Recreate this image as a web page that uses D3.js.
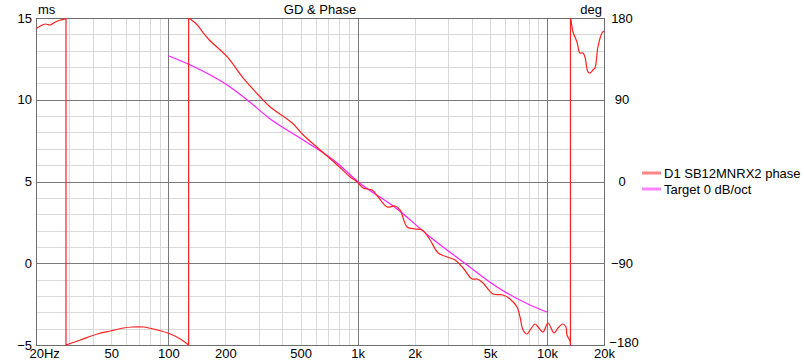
<!DOCTYPE html>
<html><head><meta charset="utf-8">
<script src="https://cdn.jsdelivr.net/npm/d3@7"></script>
<style>
body{margin:0;background:#fff;}
svg{display:block;font-family:"Liberation Sans",Arial,sans-serif;}
</style></head>
<body><svg id="c" width="804" height="360"></svg>
<script>
// ---- data ----
const title = "GD & Phase";
const leftUnit = "ms", rightUnit = "deg";
const msTicks = [-5, 0, 5, 10, 15];
const degTicks = [-180, -90, 0, 90, 180];
const freqTicks = [20, 50, 100, 200, 500, 1000, 2000, 5000, 10000, 20000];
const freqLabels = ["20Hz", "50", "100", "200", "500", "1k", "2k", "5k", "10k", "20k"];
const seriesNames = ["D1 SB12MNRX2 phase", "Target 0 dB/oct"];
const seriesColors = ["#ff1f1f", "#ff1fff"];

// measured phase (Hz, deg) – wraps shown as vertical jumps
const phaseFreq = [20, 21.1, 22.4, 23.8, 25.3, 26.9, 28.4, 28.8, 28.8, 34.3, 42.2, 49.4, 57.9, 64.6, 73.8, 87.5, 102.5, 115.7, 128, 128,
  130.6, 142.3, 153, 164.6, 204.8, 248.8, 305.9, 345.3, 451.1, 515.9, 634.1, 779.7, 913.2, 994,
  1069, 1192, 1283, 1431, 1577, 1676, 1824, 2011, 2190, 2413, 2660, 2967, 3270, 3604, 4020, 4272, 4596,
  5189, 5860, 6378, 6946, 7204, 7471, 7844, 8136, 8645, 8965, 9525, 10122, 10889, 11429, 12145, 12597,
  12750, 13224, 13300, 13300, 13384, 13713, 14396, 14930, 15488, 15870, 16460, 16866, 17487, 17920, 18580, 19505, 20000];
const phaseDeg = [168.2, 171.2, 173.4, 172.3, 175.6, 177.8, 178.9, 180, -180, -174.5, -167.9, -164.6, -161.3, -160.2, -160.2, -163.5, -167.9, -173.4, -180, 180,
  178.9, 172.3, 163.5, 155.8, 137.1, 113.9, 93.0, 82.0, 64.4, 51.2, 34.7, 18.2, 5.0, -0.5,
  -7.2, -9.4, -17.1, -28.1, -27, -31.4, -50.1, -52.3, -53.4, -64.4, -78.7, -83.1, -86.4, -95.2, -107.3, -107.3, -111.7,
  -123.8, -124.9, -129.3, -138.2, -149.2, -163.5, -167.9, -163.5, -156.9, -160.2, -165.7, -155.8, -166.8, -161.3, -156.9, -160.2,
  -169, -175.6, -180, 180, 177.8, 164.6, 153.6, 141.5, 141.5, 137.1, 120.6, 119.5, 122.8, 125, 148.1, 163.5, 165.7];

// target phase (Hz, deg)
const targetFreq = [100, 130.6, 204.8, 261.2, 345.3, 515.9, 779.7, 1000, 1616, 2413, 3604, 5446, 8136, 10000];
const targetDeg = [138.5, 128.3, 106.2, 89.7, 68.8, 45.7, 20.4, 0, -30.3, -61.1, -88.6, -116.1, -136, -143.7];

// ---- chart ----
const svg = d3.select("#c");
const L = 36, R = 604, T = 18, B = 345;
const x = d3.scaleLog().domain([20, 20000]).range([L, R]);
const yMs = d3.scaleLinear().domain([-5, 15]).range([B, T]);
const yDeg = d3.scaleLinear().domain([-180, 180]).range([B, T]);
const crisp = v => Math.round(v) + 0.5;
const FONT = "Liberation Sans, Arial, sans-serif";

const g = svg.append("g");
const majors = [100, 1000, 10000];
const minorX = x.ticks().filter(f => f > 20 && f < 20000 && !majors.includes(f));
g.selectAll(".vx").data(minorX).enter().append("line")
  .attr("x1", d => crisp(x(d))).attr("x2", d => crisp(x(d)))
  .attr("y1", T).attr("y2", B).attr("stroke", "#d9d9d9");
const hy = d3.range(-4, 15, 1);
g.selectAll(".hy").data(hy.filter(d => ![0, 5, 10].includes(d))).enter().append("line")
  .attr("y1", d => crisp(yMs(d))).attr("y2", d => crisp(yMs(d)))
  .attr("x1", L).attr("x2", R).attr("stroke", "#d9d9d9");
g.selectAll(".hd").data([0, 5, 10]).enter().append("line")
  .attr("y1", d => crisp(yMs(d))).attr("y2", d => crisp(yMs(d)))
  .attr("x1", L).attr("x2", R).attr("stroke", "#7a7a7a");
g.selectAll(".vd").data(majors).enter().append("line")
  .attr("x1", d => crisp(x(d))).attr("x2", d => crisp(x(d)))
  .attr("y1", T).attr("y2", B).attr("stroke", "#7a7a7a");
g.append("rect").attr("x", L + 0.5).attr("y", T + 0.5).attr("width", R - L).attr("height", B - T)
  .attr("fill", "none").attr("stroke", "#6e6e6e");

// axes
const fs = "13px";
const ax = svg.append("g").attr("transform", `translate(${L},0)`)
  .call(d3.axisLeft(yMs).tickValues(msTicks).tickSize(0).tickPadding(4).tickFormat(d3.format("d")));
ax.select(".domain").remove();
ax.selectAll("text").attr("font-size", fs).attr("fill", "#000").attr("font-family", FONT);

const ar = svg.append("g").attr("transform", `translate(${R},0)`)
  .call(d3.axisRight(yDeg).tickValues(degTicks).tickSize(0).tickFormat(d3.format("d")));
ar.select(".domain").remove();
ar.selectAll("text").attr("font-size", fs).attr("fill", "#000").attr("x", 18).attr("text-anchor", "middle")
  .attr("font-family", FONT);
ar.selectAll("text").filter(d => d === -180).attr("dy", "0.1em").attr("x", 20);

const ab = svg.append("g").attr("transform", `translate(0,${B})`)
  .call(d3.axisBottom(x).tickValues(freqTicks).tickSize(0).tickFormat((d, i) => freqLabels[i]));
ab.select(".domain").remove();
ab.selectAll("text").attr("font-size", fs).attr("fill", "#000").attr("y", 8).attr("dy", "0.35em")
  .attr("font-family", FONT);
ab.selectAll("text").filter((d, i) => i === 0).attr("text-anchor", "start").attr("x", -7);

// labels
svg.append("text").attr("x", (L + R) / 2).attr("y", 9).attr("dy", "0.35em").attr("text-anchor", "middle")
  .attr("font-size", "13px").text(title);
svg.append("text").attr("x", 38).attr("y", 9).attr("dy", "0.35em").attr("font-size", "13px").text(leftUnit);
svg.append("text").attr("x", 602).attr("y", 9).attr("dy", "0.35em").attr("text-anchor", "end").attr("font-size", "13px").text(rightUnit);

// series
svg.append("clipPath").attr("id", "pc").append("rect")
  .attr("x", L).attr("y", T).attr("width", R - L + 1).attr("height", B - T + 1);

// split the phase trace at wraps, smooth each piece, join pieces with vertical jumps
const pts = phaseFreq.map((f, i) => [f, phaseDeg[i]]);
const segs = [[pts[0]]];
for (let i = 1; i < pts.length; i++) {
  if (Math.abs(pts[i][1] - pts[i - 1][1]) > 300) segs.push([]);
  segs[segs.length - 1].push(pts[i]);
}
const seg = d3.line().x(d => x(d[0])).y(d => yDeg(d[1])).curve(d3.curveCatmullRom.alpha(0.5));
const pathD = segs.map((s, i) => {
  const d = seg(s);
  return i === 0 ? d : "L" + d.slice(1);
}).join("");

const smooth = d3.line().x(d => x(d[0])).y(d => yDeg(d[1])).curve(d3.curveMonotoneX);
svg.append("path").datum(targetFreq.map((f, i) => [f, targetDeg[i]]))
  .attr("d", smooth).attr("fill", "none").attr("stroke", seriesColors[1]).attr("stroke-width", 1.2)
  .attr("clip-path", "url(#pc)");
svg.append("path").attr("d", pathD).attr("fill", "none").attr("stroke", seriesColors[0]).attr("stroke-width", 1.2)
  .attr("stroke-linejoin", "round").attr("clip-path", "url(#pc)");

// legend
const lg = svg.append("g");
seriesNames.forEach((n, i) => {
  const yy = 173 + i * 16;
  lg.append("line").attr("x1", 642).attr("x2", 661).attr("y1", yy).attr("y2", yy)
    .attr("stroke", seriesColors[i]).attr("stroke-width", 3).attr("stroke-opacity", 0.55);
  lg.append("text").attr("x", 664).attr("y", yy).attr("dy", "0.35em").attr("font-size", "13px").text(n);
});
</script></body></html>
